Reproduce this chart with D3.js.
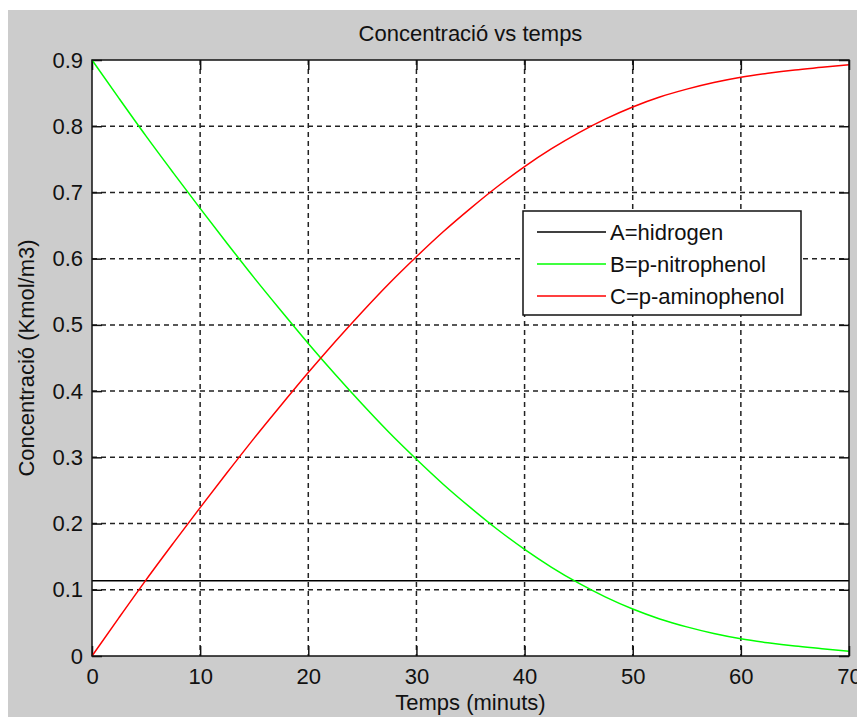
<!DOCTYPE html>
<html>
<head>
<meta charset="utf-8">
<script src="https://cdn.jsdelivr.net/npm/d3@7"></script>
<style>
html,body{margin:0;padding:0;background:#fff;}
svg{display:block;}
text{font-family:"Liberation Sans",Arial,sans-serif;fill:#111;}
</style>
</head>
<body>
<svg id="chart" width="857" height="717"></svg>
<script>
// ---- data ----
const times = [0,2.5,5,7.5,10,12.5,15,17.5,20,22.5,25,27.5,30,32.5,35,37.5,40,42.5,45,47.5,50,52.5,55,57.5,60,62.5,65,67.5,70];
const nitrophenol = [0.900,0.842,0.785,0.730,0.676,0.623,0.571,0.521,0.472,0.425,0.380,0.337,0.297,0.259,0.224,0.191,0.161,0.134,0.110,0.089,0.071,0.056,0.044,0.034,0.026,0.020,0.015,0.011,0.007];
const aminophenol = [0.000,0.058,0.115,0.170,0.224,0.277,0.329,0.379,0.428,0.475,0.520,0.563,0.603,0.641,0.676,0.709,0.739,0.766,0.790,0.811,0.829,0.844,0.856,0.866,0.874,0.880,0.885,0.889,0.893];
const hydrogenTimes = [0,70];
const hydrogen = [0.1135,0.1135];
const xTicks = [0,10,20,30,40,50,60,70];
const yTicks = [0,0.1,0.2,0.3,0.4,0.5,0.6,0.7,0.8,0.9];
const yTickLabels = ["0","0.1","0.2","0.3","0.4","0.5","0.6","0.7","0.8","0.9"];
const seriesNames = ["A=hidrogen","B=p-nitrophenol","C=p-aminophenol"];
const seriesColors = ["#000000","#00ff00","#ff0000"];
const titleText = "Concentració vs temps";
const xLabel = "Temps (minuts)";
const yLabel = "Concentració (Kmol/m3)";

// ---- layout ----
const svg = d3.select("#chart");
const L = 92, R = 849, T = 60, B = 656;
const fontSize = 22;

svg.append("rect").attr("x",8).attr("y",10).attr("width",857-8).attr("height",717-10).attr("fill","#cccccc");

const x = d3.scaleLinear().domain([0,70]).range([L,R]);
const y = d3.scaleLinear().domain([0,0.9]).range([B,T]);

const g = svg.append("g");
g.append("rect").attr("x",L).attr("y",T).attr("width",R-L).attr("height",B-T).attr("fill","#fff");

// grid
const gridStyle = s => s.attr("stroke","#222").attr("stroke-width",1.5).attr("stroke-dasharray","5,4");
g.selectAll(".vg").data(xTicks.filter(d=>d>0&&d<70)).join("line")
  .attr("x1",d=>x(d)).attr("x2",d=>x(d)).attr("y1",T).attr("y2",B).call(gridStyle);
g.selectAll(".hg").data(yTicks.filter(d=>d>0&&d<0.9)).join("line")
  .attr("x1",L).attr("x2",R).attr("y1",d=>y(d)).attr("y2",d=>y(d)).call(gridStyle);

// axes with inner ticks on all four sides
const tl = 10;
const axB = d3.axisBottom(x).tickValues(xTicks).tickSize(-tl).tickSizeOuter(0).tickFormat(d3.format("d")).tickPadding(12);
const axT = d3.axisTop(x).tickValues(xTicks).tickSize(-tl).tickSizeOuter(0).tickFormat("");
const axL = d3.axisLeft(y).tickValues(yTicks).tickSize(-tl).tickSizeOuter(0).tickFormat((d,i)=>yTickLabels[i]).tickPadding(9);
const axR = d3.axisRight(y).tickValues(yTicks).tickSize(-tl).tickSizeOuter(0).tickFormat("");
function styleAxis(sel){
  sel.select(".domain").remove();
  sel.selectAll(".tick line").attr("stroke","#111").attr("stroke-width",1.5);
  sel.selectAll(".tick text").attr("font-size",fontSize).attr("font-family","Liberation Sans, Arial, sans-serif").attr("fill","#111");
}
g.append("g").attr("transform",`translate(0,${B})`).call(axB).call(styleAxis);
g.append("g").attr("transform",`translate(0,${T})`).call(axT).call(styleAxis);
g.append("g").attr("transform",`translate(${L},0)`).call(axL).call(styleAxis);
g.append("g").attr("transform",`translate(${R},0)`).call(axR).call(styleAxis);

// series
const line = d3.line().x(d=>x(d[0])).y(d=>y(d[1])).curve(d3.curveMonotoneX);
const series = [
  d3.zip(hydrogenTimes, hydrogen),
  d3.zip(times, nitrophenol),
  d3.zip(times, aminophenol)
];
const plot = g.append("g");
series.forEach((s,i)=>{
  plot.append("path").datum(s).attr("d",line).attr("fill","none")
    .attr("stroke",seriesColors[i]).attr("stroke-width",1.5);
});

// box
g.append("rect").attr("x",L).attr("y",T).attr("width",R-L).attr("height",B-T)
  .attr("fill","none").attr("stroke","#111").attr("stroke-width",1.5);

// title & labels
svg.append("text").attr("x",(L+R)/2).attr("y",41).attr("text-anchor","middle").attr("font-size",fontSize).text(titleText);
svg.append("text").attr("x",(L+R)/2).attr("y",710).attr("text-anchor","middle").attr("font-size",fontSize).text(xLabel);
svg.append("text").attr("transform",`translate(34,${(T+B)/2}) rotate(-90)`).attr("text-anchor","middle").attr("font-size",fontSize).text(yLabel);

// legend
const lg = svg.append("g");
lg.append("rect").attr("x",523).attr("y",211).attr("width",278).attr("height",104)
  .attr("fill","#fff").attr("stroke","#111").attr("stroke-width",1.5);
const rowsY = [232,264,296];
seriesNames.forEach((n,i)=>{
  lg.append("line").attr("x1",537).attr("x2",606).attr("y1",rowsY[i]).attr("y2",rowsY[i])
    .attr("stroke",seriesColors[i]).attr("stroke-width",1.5);
  lg.append("text").attr("x",610).attr("y",rowsY[i]).attr("dy","0.36em").attr("font-size",fontSize).text(n);
});
</script>
</body>
</html>
